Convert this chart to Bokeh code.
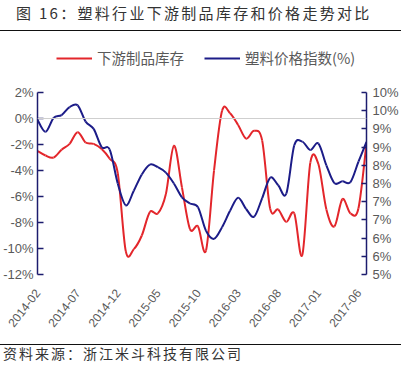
import math
import numpy as np
import pandas as pd
from bokeh.plotting import figure
from bokeh.models import (Range1d, LinearAxis, FixedTicker, Span, Legend, LegendItem,
                          Div, PrintfTickFormatter)
from bokeh.layouts import column
from bokeh.embed import file_html
from bokeh.resources import INLINE

# ---------------- data ----------------
months = [str(m) for m in pd.period_range("2014-02", "2017-07", freq="M")]

# 下游制品库存 (left axis, %)
inventory = [-2.5, -2.85, -3.0, -2.4, -1.95, -1.05, -1.85, -1.95, -2.35, -3.1,
             -4.2, -10.2, -10.05, -9.0, -7.2, -7.3, -5.8, -2.1, -5.3, -8.5,
             -8.3, -10.15, -4.0, 0.6, 0.4, -0.5, -1.55, -0.95, -1.7, -6.95,
             -7.0, -7.95, -7.3, -10.5, -3.4, -3.5, -7.0, -8.3, -6.2, -7.3,
             -6.9, -1.9]

# 塑料价格指数(%) (right axis)
price_index = [9.25, 8.92, 9.3, 9.38, 9.6, 9.65, 9.2, 9.0, 8.5, 8.43,
               7.5, 6.9, 7.3, 7.75, 8.02, 7.95, 7.8, 7.5, 7.12, 6.95,
               6.85, 6.2, 5.98, 6.3, 6.75, 7.11, 6.8, 6.59, 7.1, 7.66,
               7.45, 7.22, 8.55, 8.65, 8.42, 8.6, 8.0, 7.51, 7.56, 7.54,
               8.1, 8.64]

x_tick_labels = ["2014-02", "2014-07", "2014-12", "2015-05", "2015-10",
                 "2016-03", "2016-08", "2017-01", "2017-06"]
left_ticks = [-12, -10, -8, -6, -4, -2, 0, 2]
right_ticks = [5.0, 5.5, 6.0, 6.5, 7.0, 7.5, 8.0, 8.5, 9.0, 9.5, 10.0]
right_tick_labels = ["5%", "6%", "6%", "7%", "7%", "8%", "8%", "9%", "9%", "10%", "10%"]

series_names = ["下游制品库存", "塑料价格指数(%)"]
title_text = "图 16：塑料行业下游制品库存和价格走势对比"
source_text = "资料来源：浙江米斗科技有限公司"

# ---------------- styles / layout ----------------
RED = "#e3262b"
NAVY = "#1c1c88"
AXIS = "#1c1c6e"
GREY = "#595959"
FONT = "Noto Sans CJK SC"

FIG_W, FIG_H = 401, 313
BORDER_TOP, BORDER_BOTTOM = 11, 70
FRAME_H = FIG_H - BORDER_TOP - BORDER_BOTTOM   # full frame (includes legend strip)
AXIS_H = 182                                   # pixel height of the axes' span
extra = FRAME_H - AXIS_H                       # strip above the axes for the legend

L_LO, L_HI = left_ticks[0], left_ticks[-1]
R_LO, R_HI = right_ticks[0], right_ticks[-1]
l_top = L_HI + extra * (L_HI - L_LO) / AXIS_H
r_top = R_HI + extra * (R_HI - R_LO) / AXIS_H

x = np.arange(len(months), dtype=float)


def smooth_segments(xs, ys):
    """Bezier segments (Excel-style smoothed line) through every data point."""
    xs = np.asarray(xs, float)
    ys = np.asarray(ys, float)
    xp = np.concatenate([[xs[0]], xs, [xs[-1]]])
    yp = np.concatenate([[ys[0]], ys, [ys[-1]]])
    n = len(xs) - 1
    d = dict(x0=xs[:-1], y0=ys[:-1], x1=xs[1:], y1=ys[1:])
    d["cx0"] = xs[:-1] + (xp[2:n + 2] - xp[0:n]) / 6.0
    d["cy0"] = ys[:-1] + (yp[2:n + 2] - yp[0:n]) / 6.0
    d["cx1"] = xs[1:] - (xp[3:n + 3] - xp[1:n + 1]) / 6.0
    d["cy1"] = ys[1:] - (yp[3:n + 3] - yp[1:n + 1]) / 6.0
    return d


p = figure(width=FIG_W, height=FIG_H,
           x_range=Range1d(0, len(months) - 1), y_range=Range1d(L_LO, l_top),
           output_backend="svg", toolbar_location=None,
           min_border_left=35, min_border_right=32,
           min_border_top=BORDER_TOP, min_border_bottom=BORDER_BOTTOM)
p.extra_y_ranges = {"right": Range1d(R_LO, r_top)}
p.xgrid.visible = False
p.ygrid.visible = False
p.outline_line_color = None
p.background_fill_color = "white"
p.border_fill_color = "white"

# left axis
ya = p.yaxis[0]
ya.bounds = (L_LO, L_HI)
ya.ticker = FixedTicker(ticks=left_ticks)
ya.formatter = PrintfTickFormatter(format="%d%%")
ya.axis_line_color = AXIS
ya.axis_line_width = 1.5
ya.major_tick_line_color = AXIS
ya.major_tick_line_width = 1.5
ya.major_tick_in = 6
ya.major_tick_out = 0
ya.minor_tick_line_color = None
ya.major_label_text_color = GREY
ya.major_label_text_font = "Liberation Sans"
ya.major_label_text_font_size = "13px"
ya.major_label_standoff = 4

# right axis
ra = LinearAxis(y_range_name="right")
ra.bounds = (R_LO, R_HI)
ra.ticker = FixedTicker(ticks=right_ticks)
ra.major_label_overrides = {t: lab for t, lab in zip(right_ticks, right_tick_labels)}
ra.axis_line_color = AXIS
ra.axis_line_width = 1.5
ra.major_tick_line_color = AXIS
ra.major_tick_line_width = 1.5
ra.major_tick_in = 5
ra.major_tick_out = 0
ra.minor_tick_line_color = None
ra.major_label_text_color = GREY
ra.major_label_text_font = "Liberation Sans"
ra.major_label_text_font_size = "13px"
ra.major_label_standoff = 6
p.add_layout(ra, "right")

# x axis
xa = p.xaxis[0]
xa.ticker = FixedTicker(ticks=[months.index(m) for m in x_tick_labels])
xa.major_label_overrides = {months.index(m): m for m in x_tick_labels}
xa.major_label_orientation = math.radians(52)
xa.axis_line_color = None
xa.major_tick_line_color = None
xa.minor_tick_line_color = None
xa.major_label_text_color = GREY
xa.major_label_text_font = "Liberation Sans"
xa.major_label_text_font_size = "12px"
xa.major_label_standoff = 10

p.add_layout(Span(location=0, dimension="width", line_color="#cfcfcf", line_width=1))

r1 = p.bezier(line_color=RED, line_width=2, **smooth_segments(x, inventory))
r2 = p.bezier(y_range_name="right", line_color=NAVY, line_width=2,
              **smooth_segments(x, price_index))

legend = Legend(items=[LegendItem(label=series_names[0], renderers=[r1]),
                       LegendItem(label=series_names[1], renderers=[r2])],
                orientation="horizontal", location=(19, FRAME_H - 26),
                border_line_color=None, background_fill_alpha=0,
                label_text_font=FONT, label_text_font_size="14.5px",
                label_text_color=GREY, glyph_width=36, spacing=20,
                label_standoff=5, padding=0, margin=0)
p.add_layout(legend, "center")

title_div = Div(text=title_text, width=FIG_W, height=31, margin=(0, 0, 0, 0),
                styles={"font-family": FONT, "font-size": "15px", "letter-spacing": "2.3px",
                        "color": "#333333", "border-bottom": "1.5px solid #111111",
                        "padding-left": "16px", "padding-top": "3px", "line-height": "20px",
                        "box-sizing": "border-box"})
source_div = Div(text=source_text, width=FIG_W, height=19, margin=(0, 0, 0, 0),
                 styles={"font-family": FONT, "font-size": "14px", "letter-spacing": "2px",
                         "color": "#333333", "border-top": "1.5px solid #111111",
                         "padding-left": "3px", "line-height": "17px",
                         "box-sizing": "border-box"})

layout = column(title_div, p, source_div, spacing=0)
open("out.html", "w").write(file_html(layout, INLINE))
